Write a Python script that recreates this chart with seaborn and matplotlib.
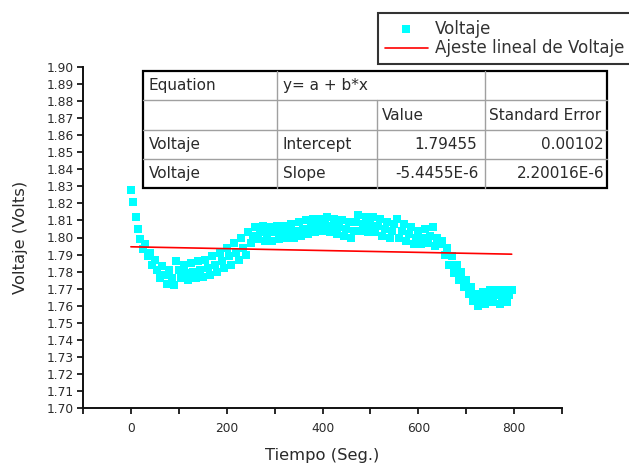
import numpy as np
import pandas as pd
import matplotlib
matplotlib.use("Agg")
import matplotlib.pyplot as plt
import seaborn as sns
from matplotlib.ticker import MultipleLocator, FormatStrFormatter

# time in seconds, every 5 s
tiempo = list(range(0, 800, 5))
voltaje = [
    1.828, 1.821, 1.812, 1.805, 1.799, 1.793, 1.796, 1.789, 1.791, 1.784,
    1.787, 1.781, 1.776, 1.783, 1.778, 1.773, 1.781, 1.776, 1.772, 1.786,
    1.781, 1.776, 1.784, 1.779, 1.775, 1.785, 1.780, 1.776, 1.786, 1.781,
    1.777, 1.787, 1.782, 1.778, 1.789, 1.784, 1.780, 1.791, 1.786, 1.782,
    1.794, 1.789, 1.784, 1.797, 1.791, 1.787, 1.800, 1.794, 1.790, 1.803,
    1.797, 1.801, 1.806, 1.799, 1.803, 1.807, 1.798, 1.802, 1.806, 1.798,
    1.803, 1.807, 1.799, 1.803, 1.807, 1.800, 1.804, 1.808, 1.800, 1.804,
    1.809, 1.801, 1.805, 1.810, 1.802, 1.806, 1.811, 1.803, 1.807, 1.811,
    1.804, 1.808, 1.812, 1.803, 1.807, 1.811, 1.802, 1.806, 1.810, 1.801,
    1.805, 1.809, 1.800, 1.804, 1.809, 1.813, 1.804, 1.808, 1.812, 1.803,
    1.808, 1.812, 1.803, 1.807, 1.811, 1.801, 1.805, 1.809, 1.800, 1.804,
    1.808, 1.811, 1.800, 1.804, 1.808, 1.798, 1.802, 1.806, 1.796, 1.800,
    1.804, 1.796, 1.800, 1.805, 1.797, 1.801, 1.806, 1.795, 1.800, 1.796,
    1.798, 1.790, 1.794, 1.784, 1.789, 1.779, 1.784, 1.775, 1.780, 1.771,
    1.775, 1.767, 1.771, 1.763, 1.767, 1.760, 1.764, 1.768, 1.761, 1.765,
    1.769, 1.762, 1.766, 1.769, 1.761, 1.765, 1.769, 1.762, 1.766, 1.769,
]

# linear fit results (from the table)
intercept = 1.79455
slope = -5.4455e-6
intercept_err = 0.00102
slope_err = 2.20016e-6

df = pd.DataFrame({"Tiempo": tiempo, "Voltaje": voltaje})
fit_x = np.array([tiempo[0], tiempo[-1]])
fit_y = intercept + slope * fit_x

sns.set_style("ticks")
plt.rcParams["font.family"] = ["DejaVu Sans"]
txt_col = "#2a2a2a"

fig = plt.figure(figsize=(6.29, 4.63), dpi=100)
ax = fig.add_axes([83 / 629, 1 - 408 / 463, 479 / 629, 341 / 463])

sns.scatterplot(data=df, x="Tiempo", y="Voltaje", ax=ax, marker="s", s=30,
                color="#00FFFF", linewidth=0, label="Voltaje", zorder=2)
ax.plot(fit_x, fit_y, color="#FF0000", lw=1.2, label="Ajeste lineal de Voltaje", zorder=3)

ax.set_xlim(-100, 900)
ax.set_ylim(1.70, 1.90)
ax.xaxis.set_major_locator(MultipleLocator(200))
ax.xaxis.set_minor_locator(MultipleLocator(100))
ax.yaxis.set_major_locator(MultipleLocator(0.01))
ax.yaxis.set_major_formatter(FormatStrFormatter("%.2f"))
ax.tick_params(axis="both", which="major", direction="out", length=4.3, width=1.4,
               labelsize=8.8, colors=txt_col, pad=2.5)
ax.tick_params(axis="x", which="minor", direction="out", length=4, width=1.4)
ax.tick_params(axis="x", pad=6)
for side in ["top", "right"]:
    ax.spines[side].set_visible(False)
for side in ["left", "bottom"]:
    ax.spines[side].set_linewidth(1.4)
    ax.spines[side].set_color("#111111")

ax.set_xlabel("Tiempo (Seg.)", fontsize=11.8, color=txt_col, labelpad=9)
ax.set_ylabel("Voltaje (Volts)", fontsize=11.8, color=txt_col, labelpad=13)

leg = ax.legend(loc="upper left", bbox_to_anchor=(378 / 629, 1 - 13 / 463),
                bbox_transform=fig.transFigure, frameon=True, fancybox=False,
                fontsize=12, handlelength=2.6, handletextpad=0.4, borderpad=0.4,
                labelspacing=0.1, borderaxespad=0, markerscale=1.0)
leg.get_frame().set_edgecolor("black")
leg.get_frame().set_linewidth(1.5)
for t in leg.get_texts():
    t.set_color("#333333")

# results table drawn in pixel coordinates on an overlay
ov = fig.add_axes([0, 0, 1, 1], zorder=5)
ov.set_xlim(0, 629)
ov.set_ylim(463, 0)
ov.set_axis_off()

x0, x1, x2, x3, x4 = 143, 277, 377, 485, 607
y0, y1, y2, y3, y4 = 71, 100, 130, 159, 188
ov.add_patch(plt.Rectangle((x0, y0), x4 - x0, y4 - y0, facecolor="white",
                           edgecolor="black", lw=1.6, zorder=1))
grey = "#a0a0a0"
for yy in [y1, y2, y3]:
    ov.plot([x0, x4], [yy, yy], color=grey, lw=1, zorder=2)
ov.plot([x1, x1], [y0, y4], color=grey, lw=1, zorder=2)
ov.plot([x3, x3], [y0, y4], color=grey, lw=1, zorder=2)
ov.plot([x2, x2], [y1, y4], color=grey, lw=1, zorder=2)

cells = [
    (x0 + 6, (y0 + y1) / 2, "Equation", "left"),
    (x1 + 6, (y0 + y1) / 2, "y= a + b*x", "left"),
    (x2 + 5, (y1 + y2) / 2, "Value", "left"),
    (x3 + 4, (y1 + y2) / 2, "Standard Error", "left"),
    (x0 + 6, (y2 + y3) / 2, "Voltaje", "left"),
    (x1 + 6, (y2 + y3) / 2, "Intercept", "left"),
    (x3 - 8, (y2 + y3) / 2, f"{intercept:.5f}", "right"),
    (x4 - 3, (y2 + y3) / 2, f"{intercept_err:.5f}", "right"),
    (x0 + 6, (y3 + y4) / 2, "Voltaje", "left"),
    (x1 + 6, (y3 + y4) / 2, "Slope", "left"),
    (x3 - 6, (y3 + y4) / 2, "-5.4455E-6", "right"),
    (x4 - 3, (y3 + y4) / 2, "2.20016E-6", "right"),
]
for cx, cy, txt, ha in cells:
    ov.text(cx, cy, txt, ha=ha, va="center", fontsize=11, color=txt_col, zorder=3)

fig.savefig("out.png", dpi=100)
plt.close(fig)
